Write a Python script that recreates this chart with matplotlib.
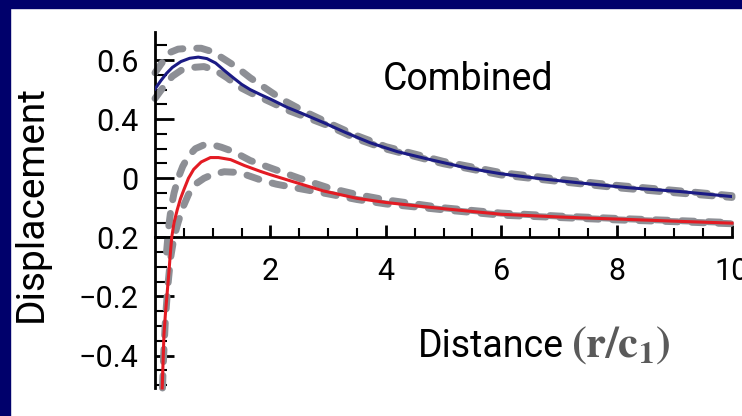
import matplotlib
matplotlib.use('Agg')
import matplotlib.pyplot as plt
from matplotlib import font_manager
from matplotlib.patches import Rectangle

# combined response (blue) and its bounds
blue_x = [0, 0.1, 0.2, 0.3, 0.45, 0.6, 0.75, 0.9, 1.05, 1.2, 1.37, 1.5, 1.65, 1.83, 2.0, 2.29, 2.6,
          2.925, 3.3, 3.73, 4.2, 4.77, 5.4, 6.0, 6.7, 7.37, 8.2, 9.1, 10.0]
blue_y = [0.502, 0.53, 0.555, 0.575, 0.595, 0.606, 0.61, 0.605, 0.59, 0.565, 0.538, 0.518, 0.50, 0.483,
          0.468, 0.44, 0.415, 0.388, 0.355, 0.32, 0.29, 0.263, 0.235, 0.215, 0.198, 0.184, 0.168, 0.155, 0.138]
blue_up_x = [0, 0.1, 0.25, 0.4, 0.6, 0.8, 1.0, 1.2, 1.4, 1.65, 1.95, 2.2, 2.6, 3.0, 3.5, 4.0, 5.0, 6.0,
             7.0, 8.0, 9.0, 10.0]
blue_up_y = [0.557, 0.585, 0.625, 0.637, 0.64, 0.64, 0.628, 0.603, 0.578, 0.54, 0.50, 0.467, 0.425, 0.388,
             0.344, 0.307, 0.257, 0.219, 0.197, 0.176, 0.159, 0.141]
blue_lo_x = [0, 0.15, 0.3, 0.45, 0.65, 0.85, 1.05, 1.25, 1.45, 1.7, 2.0, 2.3, 2.6, 3.0, 3.5, 4.0, 5.0,
             6.0, 7.0, 8.0, 9.0, 10.0]
blue_lo_y = [0.47, 0.51, 0.545, 0.565, 0.575, 0.578, 0.565, 0.54, 0.51, 0.485, 0.458, 0.43, 0.408, 0.378,
             0.333, 0.299, 0.249, 0.211, 0.189, 0.168, 0.151, 0.135]

# red response and its bounds
red_x = [0.125, 0.14, 0.155, 0.18, 0.21, 0.24, 0.27, 0.29, 0.33, 0.385, 0.44, 0.5, 0.58, 0.67, 0.8, 0.96,
         1.1, 1.31, 1.55, 1.83, 2.0, 2.5, 2.92, 3.5, 4.0, 4.6, 5.0, 6.0, 7.0, 7.37, 8.0, 9.1, 10.0]
red_y = [-0.51, -0.42, -0.33, -0.26, -0.19, -0.12, -0.045, 0.0, 0.05, 0.093, 0.13, 0.161, 0.2, 0.23, 0.255,
         0.27, 0.27, 0.263, 0.243, 0.223, 0.212, 0.182, 0.157, 0.132, 0.118, 0.105, 0.097, 0.078, 0.069,
         0.066, 0.062, 0.054, 0.048]
red_up_x = [0.2, 0.24, 0.28, 0.33, 0.4, 0.48, 0.58, 0.7, 0.85, 1.0, 1.15, 1.36, 1.65, 2.0, 2.5, 3.0, 3.5,
            4.0, 5.0, 6.0, 7.0, 8.0, 9.0, 10.0]
red_up_y = [-0.05, 0.04, 0.1, 0.15, 0.2, 0.24, 0.275, 0.3, 0.313, 0.313, 0.305, 0.29, 0.26, 0.235, 0.2,
            0.168, 0.145, 0.127, 0.1, 0.082, 0.072, 0.064, 0.057, 0.05]
red_lo_x = [0.13, 0.15, 0.18, 0.22, 0.27, 0.33, 0.4, 0.48, 0.58, 0.7, 0.85, 1.0, 1.2, 1.4, 1.6, 1.85,
            2.1, 2.5, 3.0, 3.5, 4.0, 5.0, 6.0, 7.0, 8.0, 9.0, 10.0]
red_lo_y = [-0.51, -0.4, -0.28, -0.17, -0.07, 0.0, 0.05, 0.1, 0.145, 0.18, 0.2, 0.213, 0.222, 0.22, 0.21,
            0.193, 0.18, 0.165, 0.147, 0.128, 0.113, 0.093, 0.075, 0.067, 0.059, 0.053, 0.046]

y_ticks = [0.6, 0.4, 0.2, 0.0, -0.2, -0.4]
y_tick_labels = ['0.6', '0.4', '0', '0.2', '\u22120.2', '\u22120.4']
x_ticks = [2, 4, 6, 8, 10]

installed = {f.name for f in font_manager.fontManager.ttflist}
narrow = 'Liberation Sans Narrow' if 'Liberation Sans Narrow' in installed else 'Roboto'
plt.rcParams['font.family'] = [narrow, 'DejaVu Sans']
plt.rcParams['mathtext.fontset'] = 'stix'

fig = plt.figure(figsize=(7.42, 4.16), dpi=100)
fig.patch.set_facecolor('white')
navy = '#00006b'
fig.patches.append(Rectangle((0, 1 - 8 / 416), 1, 8 / 416, transform=fig.transFigure, color=navy))
fig.patches.append(Rectangle((0, 0), 10 / 742, 1, transform=fig.transFigure, color=navy))

ax = fig.add_axes([155 / 742, 28 / 416, 577 / 742, 356 / 416])
ax.set_xlim(0, 10)
ax.set_ylim(-0.51, 0.695)
ax.patch.set_alpha(0)

gray = '#8d8f95'
for xs, ys in [(blue_up_x, blue_up_y), (blue_lo_x, blue_lo_y), (red_up_x, red_up_y), (red_lo_x, red_lo_y)]:
    ax.plot(xs, ys, color=gray, lw=5, dashes=(1.8, 2.0), dash_capstyle='round', zorder=2, clip_on=False)
ax.plot(blue_x, blue_y, color='#1b1b85', lw=2.2, zorder=3)
ax.plot(red_x, red_y, color='#e31b23', lw=2.2, zorder=3, clip_on=False)

for s in ['top', 'right']:
    ax.spines[s].set_visible(False)
ax.spines['bottom'].set_position(('data', 0))
ax.spines['left'].set_linewidth(2)
ax.spines['bottom'].set_linewidth(2)

ax.set_yticks(y_ticks)
ax.set_yticklabels(y_tick_labels)
ax.set_yticks([v / 100 for v in range(-50, 70, 5)], minor=True)
ax.set_xticks(x_ticks)
ax.set_xticklabels([str(v) for v in x_ticks])
ax.set_xticks([v / 2 for v in range(1, 21)], minor=True)

ax.tick_params(axis='y', which='major', direction='in', length=14, width=2, pad=12, labelsize=22)
ax.tick_params(axis='y', which='minor', direction='in', length=8.5, width=1.5)
ax.tick_params(axis='x', which='major', direction='in', length=8.5, width=2, pad=14, labelsize=22)
ax.tick_params(axis='x', which='minor', direction='in', length=6.5, width=1.5)

ax.text(3.95, 0.5, 'Combined', fontsize=27, va='baseline', ha='left')
fig.text(31 / 742, 1 - 204 / 416, 'Displacement', rotation=90, fontsize=28, ha='center', va='center')
fig.text(418 / 742, 1 - 357 / 416, 'Distance', fontsize=27, ha='left', va='baseline')
fig.text(571 / 742, 1 - 357 / 416, r'$\mathbf{(r/c_1)}$', fontsize=32, color='#5a5a5a',
         ha='left', va='baseline')

fig.savefig('out.png', dpi=100)
